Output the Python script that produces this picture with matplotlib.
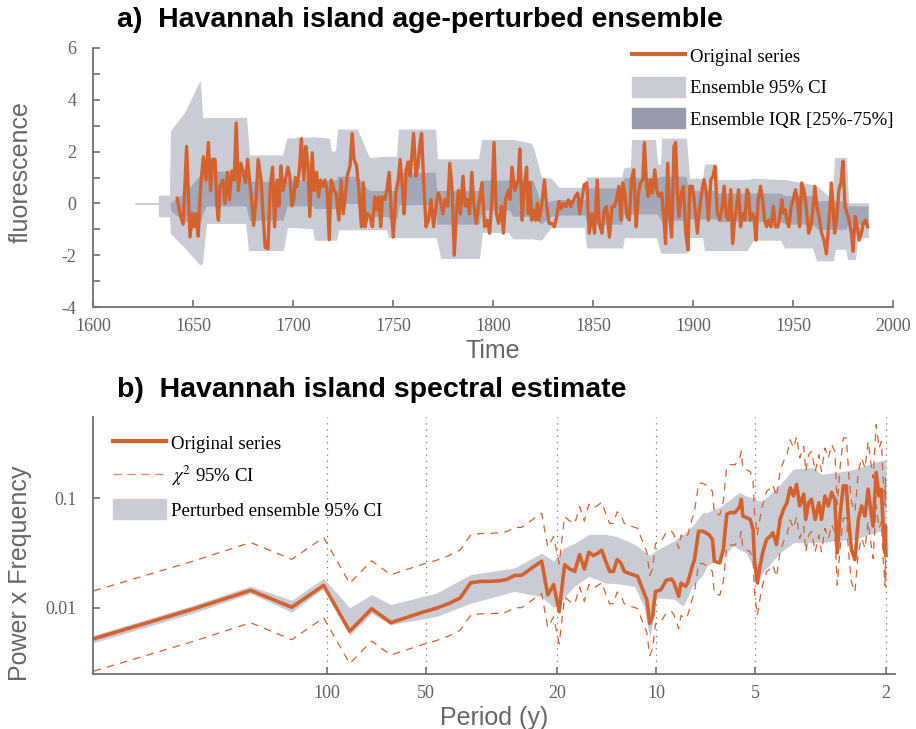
import matplotlib
matplotlib.use("Agg")
import matplotlib.pyplot as plt
import numpy as np
from matplotlib.lines import Line2D
from matplotlib.patches import Patch

plt.rcParams['mathtext.fontset'] = 'stix'
plt.rcParams['axes.unicode_minus'] = False

# ---- panel a: original series ----
years = [1642.1, 1643.8, 1645.1, 1646.8, 1648.5, 1649.8, 1650.6, 1651.5, 1652.6, 1653.8,
         1655.2, 1656.5, 1657.7, 1658.8, 1659.8, 1661.0, 1662.0, 1662.7, 1663.5, 1664.9,
         1666.0, 1667.2, 1668.2, 1669.4, 1670.6, 1671.6, 1672.7, 1673.9, 1675.2, 1676.3,
         1677.3, 1678.3, 1679.3, 1680.3, 1681.5, 1682.6, 1684.0, 1685.0, 1686.1, 1687.5,
         1688.6, 1689.8, 1690.8, 1692.0, 1693.0, 1694.0, 1695.0, 1696.2, 1697.4, 1698.4,
         1699.5, 1700.4, 1701.2, 1702.1, 1703.2, 1704.2, 1705.4, 1706.4, 1707.4, 1708.4,
         1709.6, 1710.6, 1711.8, 1712.8, 1713.8, 1714.8, 1716.0, 1717.1, 1718.1, 1719.1,
         1720.5, 1721.5,
         1722.9, 1724.1, 1725.1, 1726.3, 1727.1, 1728.5, 1729.6, 1730.5, 1731.8, 1733.0,
         1734.2, 1735.2, 1736.0, 1737.2, 1738.5, 1739.7, 1740.9, 1741.9, 1743.0, 1743.9,
         1744.7, 1745.9, 1746.9, 1748.1, 1749.2, 1750.2, 1751.4, 1752.6, 1753.6, 1754.8,
         1755.6, 1756.6, 1757.6, 1758.6, 1760.3, 1761.5, 1762.5, 1763.3, 1764.3, 1765.3,
         1766.5, 1767.7, 1769.0, 1770.3, 1771.5, 1772.6, 1773.7, 1774.9, 1776.0, 1777.4,
         1778.4, 1779.6, 1780.6, 1781.7, 1782.7, 1783.7, 1785.0, 1786.1, 1787.1, 1788.3,
         1789.4, 1790.4, 1791.6, 1792.8, 1794.5, 1795.8, 1797.1, 1798.3, 1799.5, 1800.5,
         1801.7, 1802.8, 1804.2, 1805.2, 1806.3, 1807.5, 1808.5, 1809.5, 1810.9, 1812.6,
         1813.4, 1814.6, 1815.6, 1816.8, 1817.6, 1818.5, 1819.3, 1820.1, 1821.3, 1822.2,
         1823.0, 1824.3, 1825.7, 1826.8, 1828.0, 1829.4, 1830.7, 1831.9, 1833.0, 1834.0,
         1835.2, 1836.4, 1837.7, 1838.9, 1839.9, 1841.1, 1842.4, 1843.4, 1844.4, 1845.6,
         1846.9, 1848.1, 1849.4, 1850.8, 1852.1, 1853.1, 1854.5, 1855.6, 1856.8, 1858.2,
         1859.5, 1860.7, 1861.7, 1862.9, 1864.0, 1864.9, 1865.9, 1867.0, 1868.2, 1869.2,
         1870.4, 1871.6, 1872.6, 1873.7, 1874.9, 1875.7, 1876.8, 1877.6, 1878.6, 1879.6,
         1880.9, 1881.8, 1882.9, 1884.3, 1885.5, 1886.3, 1887.3, 1888.3, 1889.3, 1890.5,
         1891.3, 1892.2, 1893.0, 1894.2, 1895.2, 1896.4, 1897.5, 1898.4, 1899.7, 1900.9,
         1902.2,
         1903.0, 1904.3, 1905.5, 1906.7, 1907.7, 1908.9, 1910.0, 1911.0, 1912.2, 1913.4,
         1914.4, 1915.6, 1916.7, 1917.7, 1918.9, 1919.8, 1920.8, 1921.8, 1922.8, 1923.8,
         1924.8, 1925.9, 1927.0, 1927.8, 1928.6, 1929.5, 1930.5, 1931.5, 1932.6, 1933.8,
         1934.8, 1935.8, 1936.8, 1937.8, 1939.0, 1940.2, 1941.2, 1942.4, 1943.2, 1944.4,
         1945.2, 1946.2, 1946.9, 1947.9, 1949.1, 1950.1, 1951.2, 1952.2, 1953.3, 1954.3,
         1955.4, 1956.6, 1957.8, 1958.9, 1960.0, 1960.9, 1962.0, 1963.3, 1964.3, 1965.5,
         1966.7, 1967.5, 1968.3, 1969.2, 1970.0, 1970.8, 1971.7, 1973.0, 1974.0, 1975.0,
         1976.0, 1977.0, 1978.0, 1979.2, 1980.0, 1981.1, 1982.1, 1983.1, 1984.2, 1985.1,
         1986.3, 1987.3]
fluor = [0.2, -0.5, -0.8, 2.2, -1.3, -0.4, -0.9, -0.4, -1.27, 0.65,
         1.8, 0.9, 2.35, 0.5, 1.7, 1.7, -0.1, -0.65, 0.65, 0.9,
         0.0, 1.2, 0.15, 1.25, 0.9, 3.1, 0.5, 1.55, 1.2, 0.8,
         1.7, 0.9, 0.1, -0.85, 0.15, 1.7, 0.9, -0.4, -1.7, -1.75,
         0.65, 1.4, -0.9, 0.9, -0.1, 1.45, 0.5, 0.9, 1.4, 1.05,
         -0.1, 0.15, 1.0, 0.65, 1.3, 2.5, 0.9, 2.2, 1.57, -0.5,
         1.95, 0.5, 1.2, 0.25, 0.9, 0.65, 0.9, 0.5, -1.4, 0.9,
         0.5, 0.4,
         -0.65, 0.9, -0.4, 0.4, 1.05, 1.45, 2.7, 1.7, 1.45, 0.5,
         -0.9, 0.8, -0.9, -0.4, -0.5, -0.9, 0.25, -0.25, 0.25, -0.9,
         0.25, 0.15, 0.5, 1.2, -0.4, -1.3, 0.4, 0.9, 1.7, 0.5,
         -0.4, 1.3, 1.6, 1.05, 2.7, 1.05, 1.45, 2.2, 2.7, 0.9,
         -0.9, -0.65, 0.15, -0.9, -0.1, 0.4, 0.15, -0.4, 0.15, -0.1,
         1.55, 0.5, -2.0, -0.4, 0.5, -0.4, 1.05, -0.1, 0.15, -0.4,
         1.2, 0.0, -0.77, -0.1, 0.8, -0.9, -0.65, -1.15, 0.15, 2.35,
         -0.4, -0.77, -0.1, -1.15, 0.15, 0.5, 0.15, 1.4, 0.5, 0.9,
         2.1, -0.65, 0.65, 1.4, -0.4, 0.8, -0.65, -0.25, -0.65, 0.0,
         -0.65, -0.1, 0.9, -0.1, -0.77, -0.77, -0.9, -0.5, 0.07, -0.2,
         0.0, -0.12, 0.14, -0.12, 0.07, 0.27, 0.4, -0.4, 0.14, 0.72,
         0.79, -1.15, -0.4, -1.15, 0.9, -0.77, -1.15, -0.25, -0.12, -1.3,
         -0.12, -0.12, 0.14, 0.66, -0.64, 0.79, 0.4, -0.51, -0.64, 0.92,
         1.3, -0.9, 0.27, 0.79, 0.92, 2.35, 0.66, 0.27, 0.92, 0.4,
         1.3, 0.53, 0.27, 0.4, -0.64, -1.55, 1.55, -0.38, -1.3, 2.2,
         2.35, 0.4, -0.51, 0.4, 0.66, -1.15, -1.8, 0.66, 0.66, -0.12,
         -1.15,
         -0.4, 0.4, 0.92, 0.4, -0.64, 0.92, 1.05, 1.43, -0.38, -0.64,
         -0.25, 0.66, -0.51, -0.64, 0.53, -1.55, -0.64, -0.12, 0.53, -0.9,
         -0.38, -0.64, 0.53, 0.4, -0.64, -0.38, -0.51, -1.42, 0.14, 0.66,
         0.14, -0.64, -0.9, -0.64, -0.9, -0.12, -0.9, -0.9, -0.64, 0.14,
         -0.38, -0.25, -0.64, -0.9, -0.12, 0.14, 0.53, 0.14, -0.9, 0.79,
         0.53, -0.12, -1.15, -0.9, -0.25, 0.66, -0.12, -0.64, -1.15, -1.42,
         -1.95, -1.15, -0.38, 0.79, -0.12, -1.15, -0.64, 0.53, 0.79, 1.63,
         -0.12, -0.38, -0.64, -1.15, -1.85, -0.51, -0.9, -1.42, -1.15, -0.77,
         -0.64, -0.9]

# ensemble envelopes (95% CI and IQR)
band_years = [1621, 1632.9, 1633, 1638.5, 1639, 1646, 1653.5, 1654.5, 1656.5, 1676.5,
              1678, 1695, 1697, 1710, 1711, 1718, 1719, 1721.5, 1722.5, 1732,
              1738, 1747, 1748, 1752, 1753, 1771, 1772, 1774, 1793, 1794.5,
              1808, 1810, 1819, 1820, 1824, 1829, 1833, 1846, 1847, 1864.5,
              1865.5, 1869, 1869.5, 1881, 1882, 1884, 1884.6, 1896.5, 1898, 1905,
              1906, 1911.5, 1912.5, 1927, 1930, 1944, 1946, 1960, 1962, 1970,
              1971, 1976.5, 1977.5, 1981, 1982, 1987.5]
ci_hi = [0, 0, 0.3, 0.3, 2.8, 3.5, 4.7, 3.3, 3.3, 3.3,
         1.85, 1.85, 2.5, 2.55, 2.55, 2.5, 2.0, 2.0, 2.85, 2.85,
         1.75, 1.8, 1.8, 1.8, 2.85, 2.85, 1.7, 1.7, 1.7, 2.45,
         2.45, 2.45, 2.3, 2.15, 1.0, 0.95, 0.6, 0.6, 1.0, 1.0,
         1.35, 1.4, 2.45, 2.45, 1.5, 1.5, 2.5, 2.5, 0.95, 0.95,
         1.5, 1.5, 0.9, 0.9, 0.95, 0.9, 0.9, 0.7, 0.65, 0.1,
         1.75, 1.75, 0.0, 0.0, 0.0, 0.0]
ci_lo = [0, 0, -0.5, -0.5, -1.15, -1.7, -2.35, -2.3, -0.75, -0.75,
         -1.8, -1.8, -0.9, -0.95, -1.4, -1.4, -1.4, -1.4, -1.0, -1.0,
         -1.0, -1.0, -1.3, -1.3, -1.3, -1.3, -1.3, -2.1, -2.1, -1.1,
         -1.1, -1.35, -1.35, -1.35, -1.4, -0.9, -0.9, -0.9, -1.7, -1.7,
         -1.3, -1.3, -1.3, -1.3, -1.3, -1.9, -1.9, -1.9, -1.3, -1.3,
         -1.8, -1.8, -1.8, -1.8, -1.4, -1.4, -1.7, -1.7, -2.2, -2.2,
         -1.75, -1.75, -2.15, -2.15, -1.3, -1.3]
iqr_hi = [0, 0, 0, 0, 0.05, 0.4, 1.1, 1.2, 1.25, 1.25,
          0.85, 0.85, 0.9, 0.9, 0.9, 0.9, 0.9, 0.9, 1.05, 1.05,
          0.5, 0.5, 0.5, 0.5, 1.2, 1.2, 0.5, 0.5, 0.5, 0.9,
          0.9, 0.9, 0.9, 0.9, 0.0, 0.1, 0.15, 0.15, 0.6, 0.6,
          1.0, 1.0, 1.0, 1.0, 1.0, 1.05, 1.05, 1.05, 0.5, 0.5,
          0.5, 0.5, 0.4, 0.4, 0.4, 0.4, 0.3, 0.3, 0.1, 0.1,
          0.1, 0.1, -0.1, -0.1, -0.1, -0.1]
iqr_lo = [0, 0, 0, 0, -0.3, -0.7, -0.75, -0.5, -0.1, -0.1,
          -0.65, -0.65, -0.1, -0.1, -0.2, -0.2, -0.2, -0.2, 0.0, 0.0,
          -0.5, -0.5, -0.6, -0.6, -0.05, -0.05, -0.8, -0.8, -0.8, -0.25,
          -0.25, -0.5, -0.5, -0.5, -0.8, -0.5, -0.45, -0.45, -0.8, -0.8,
          -0.4, -0.4, -0.4, -0.4, -0.4, -0.65, -0.65, -0.65, -0.6, -0.6,
          -0.6, -0.6, -0.7, -0.7, -0.7, -0.7, -0.8, -0.8, -1.0, -1.0,
          -1.0, -1.0, -0.8, -0.8, -0.8, -0.8]

# ---- panel b: spectrum (frequency index on a 512-point grid) ----
nfft = 512
spec_k = [1, 2, 3, 4, 5, 6, 7, 8, 9, 10, 11, 12, 13, 14, 15, 16, 17, 18, 19, 20,
          21, 22, 23, 24, 25, 26, 27, 28, 29, 30, 31, 32, 33, 34, 35, 36, 37, 38, 39, 40,
          41, 42, 45, 46, 48, 49, 50, 51, 53, 55, 57, 58, 60, 61, 63, 64, 66, 67, 69, 71,
          74, 76, 77, 80, 82, 84, 86, 89, 92, 93, 94, 99, 101, 102, 104, 106, 108, 111, 114, 116,
          119, 122, 125, 128, 131, 134, 137, 140, 144, 146, 149, 152, 156, 160, 163, 167, 171, 175, 179, 182,
          186, 190, 194, 197, 201, 206, 211, 216, 221, 226, 230, 234, 239, 244, 248, 251, 254, 255, 256]
spec_pow = [0.0052, 0.0097, 0.0144, 0.0101, 0.0160, 0.0061, 0.0098, 0.0073, 0.0082, 0.0091,
            0.0099, 0.0109, 0.0123, 0.0169, 0.0174, 0.0174, 0.0176, 0.0181, 0.0197, 0.0198,
            0.0220, 0.0243, 0.0266, 0.0131, 0.0163, 0.0092, 0.0248, 0.0226, 0.0215, 0.0306,
            0.0226, 0.0322, 0.0300, 0.0313, 0.0336, 0.0266, 0.0215, 0.0215, 0.0275, 0.0257,
            0.0215, 0.0208, 0.0194, 0.0163, 0.0118, 0.0072, 0.0083, 0.0141, 0.0146, 0.0178,
            0.0183, 0.0171, 0.0127, 0.0168, 0.0157, 0.0171, 0.0239, 0.0275, 0.0501, 0.0501,
            0.0468, 0.0421, 0.0266, 0.0257, 0.0340, 0.0713, 0.0740, 0.0740, 0.0839, 0.098,
            0.0689, 0.0641, 0.0520, 0.0275, 0.0168, 0.0239, 0.0318, 0.0421, 0.0451, 0.0484,
            0.0378, 0.0641, 0.0793, 0.0912, 0.125, 0.105, 0.134, 0.0851, 0.109, 0.0641,
            0.0912, 0.098, 0.0641, 0.0912, 0.0641, 0.105, 0.0851, 0.113, 0.098, 0.0318,
            0.0740, 0.130, 0.130, 0.0641, 0.0340, 0.0275, 0.0641, 0.0851, 0.0689, 0.121,
            0.0793, 0.0557, 0.172, 0.105, 0.121, 0.0557, 0.0318, 0.056, 0.030]
chi2_up, chi2_dn = 2.74, 0.506   # chi-square 95% CI multipliers

band_k = [1, 2, 3, 4, 5, 6, 7, 8, 11, 14, 19, 23, 25, 27, 29, 32, 36, 39, 44, 47,
          49, 50, 51, 58, 62, 66, 71, 73, 80, 88, 92, 96, 101, 104, 108, 122, 134, 154, 163, 181,
          206, 228, 256]
band_hi = [0.0056, 0.0105, 0.0158, 0.0117, 0.0186, 0.0100, 0.0132, 0.0107, 0.0136, 0.0201,
           0.0231, 0.0316, 0.0266, 0.0355, 0.0389, 0.0468, 0.0468, 0.0447, 0.0380, 0.0331,
           0.0302, 0.0316, 0.0331, 0.0406, 0.0468, 0.0557, 0.0740, 0.0740, 0.0832, 0.103,
           0.113, 0.105, 0.101, 0.096, 0.094, 0.134, 0.185, 0.191, 0.166, 0.172,
           0.185, 0.205, 0.228]
band_lo = [0.0048, 0.0089, 0.0135, 0.0091, 0.0151, 0.0056, 0.0089, 0.0070, 0.0083, 0.0110,
           0.0141, 0.0126, 0.0100, 0.0126, 0.0158, 0.0194, 0.0168, 0.0166, 0.0157, 0.0103,
           0.0053, 0.0072, 0.0123, 0.0120, 0.0103, 0.0157, 0.0200, 0.0239, 0.0282, 0.0366,
           0.034, 0.0318, 0.0239, 0.0168, 0.0208, 0.0318, 0.0393, 0.0393, 0.0393, 0.041,
           0.0421, 0.0468, 0.052]
period_ticks = [100, 50, 20, 10, 5, 2]

orange = '#d4622f'
ci_col = '#c9ccd5'
iqr_col = '#a3a7b6'
grey_txt = '#666666'
sans = 'Liberation Sans'
serif = 'Liberation Serif'


def style_axes(ax):
    for s in ['top', 'right']:
        ax.spines[s].set_visible(False)
    for s in ['left', 'bottom']:
        ax.spines[s].set_color('#6f6f6f')
        ax.spines[s].set_linewidth(1.3)
    ax.tick_params(which='both', direction='in', length=5, width=1.2,
                   colors='#6f6f6f', labelsize=13, labelcolor='#606060')
    ax.tick_params(axis='y', which='both', pad=12)
    ax.tick_params(axis='x', which='both', pad=8)
    for lab in ax.get_xticklabels() + ax.get_yticklabels():
        lab.set_fontfamily(serif)


fig = plt.figure(figsize=(9.16, 7.29), dpi=100)
ax1 = fig.add_axes([93 / 916, 1 - 307 / 729, 800 / 916, 259 / 729])
ax2 = fig.add_axes([93 / 916, 1 - 674 / 729, 802 / 916, 257 / 729])

# panel a
ax1.fill_between(band_years, ci_lo, ci_hi, color=ci_col, lw=0.8, edgecolor=ci_col)
ax1.fill_between(band_years, iqr_lo, iqr_hi, color=iqr_col, lw=0)
ax1.plot(years, fluor, color=orange, lw=2.4)
ax1.set_xlim(1600, 2000)
ax1.set_ylim(-4, 6)
ax1.set_xticks(np.arange(1600, 2001, 50))
ax1.set_yticks(np.arange(-4, 7, 2))
ax1.set_yticks(np.arange(-3, 6, 2), minor=True)
style_axes(ax1)
ax1.set_ylabel('fluorescence', fontsize=18, color=grey_txt, family=sans)
ax1.yaxis.set_label_coords(-0.076, 0.52)
ax1.set_xlabel('Time', fontsize=18, color=grey_txt, family=sans, labelpad=3)

h1 = [Line2D([], [], color=orange, lw=3),
      Patch(color=ci_col), Patch(color='#969aaa')]
ax1.legend(h1, ['Original series', 'Ensemble 95% CI', 'Ensemble IQR [25%-75%]'],
           loc='upper left', bbox_to_anchor=(0.674, 1.01), frameon=False,
           prop={'family': serif, 'size': 13.5}, handlelength=2.8, handleheight=1.25,
           labelspacing=0.6, handletextpad=0.3, borderpad=0, borderaxespad=0)

# panel b
freq = np.array(spec_k) / nfft
pw = np.array(spec_pow)
for p in period_ticks:
    ax2.axvline(1 / p, color='#777777', ls=(0, (1, 4)), lw=0.9, zorder=0)
ax2.fill_between(np.array(band_k) / nfft, band_lo, band_hi, color=ci_col, lw=0)
ax2.plot(freq, pw * chi2_up, color=orange, lw=0.9, ls=(0, (6, 5)))
ax2.plot(freq, pw * chi2_dn, color=orange, lw=0.9, ls=(0, (6, 5)))
ax2.plot(freq, pw, color=orange, lw=2.6)
ax2.set_xscale('log')
ax2.set_yscale('log')
ax2.set_xlim(0.001944, 0.5326)
ax2.set_ylim(0.00248, 0.553)
ax2.set_xticks([1 / p for p in period_ticks])
ax2.set_xticklabels([str(p) for p in period_ticks])
ax2.xaxis.set_minor_locator(matplotlib.ticker.NullLocator())
ax2.set_yticks([0.01, 0.1])
ax2.set_yticklabels(['0.01', '0.1'])
ax2.yaxis.set_minor_locator(matplotlib.ticker.NullLocator())
style_axes(ax2)
ax2.set_ylabel('Power x Frequency', fontsize=18, color=grey_txt, family=sans)
ax2.yaxis.set_label_coords(-0.076, 0.39)
ax2.set_xlabel('Period (y)', fontsize=18, color=grey_txt, family=sans, labelpad=3)

h2 = [Line2D([], [], color=orange, lw=3),
      Line2D([], [], color=orange, lw=1, ls=(0, (6, 4)), alpha=0.7),
      Patch(color=ci_col)]
ax2.legend(h2, ['Original series', r'$\chi^2$ 95% CI', 'Perturbed ensemble 95% CI'],
           loc='upper left', bbox_to_anchor=(0.025, 0.94), frameon=False,
           prop={'family': serif, 'size': 13.5}, handlelength=2.8, handleheight=1.25,
           labelspacing=0.6, handletextpad=0.3, borderpad=0, borderaxespad=0)

fig.text(117 / 916, 1 - 20 / 729, 'a)  Havannah island age-perturbed ensemble',
         fontsize=20.5, fontweight='bold', family=sans, va='center', ha='left')
fig.text(117 / 916, 1 - 390 / 729, 'b)  Havannah island spectral estimate',
         fontsize=20.5, fontweight='bold', family=sans, va='center', ha='left')

fig.savefig('out.png', dpi=100)
